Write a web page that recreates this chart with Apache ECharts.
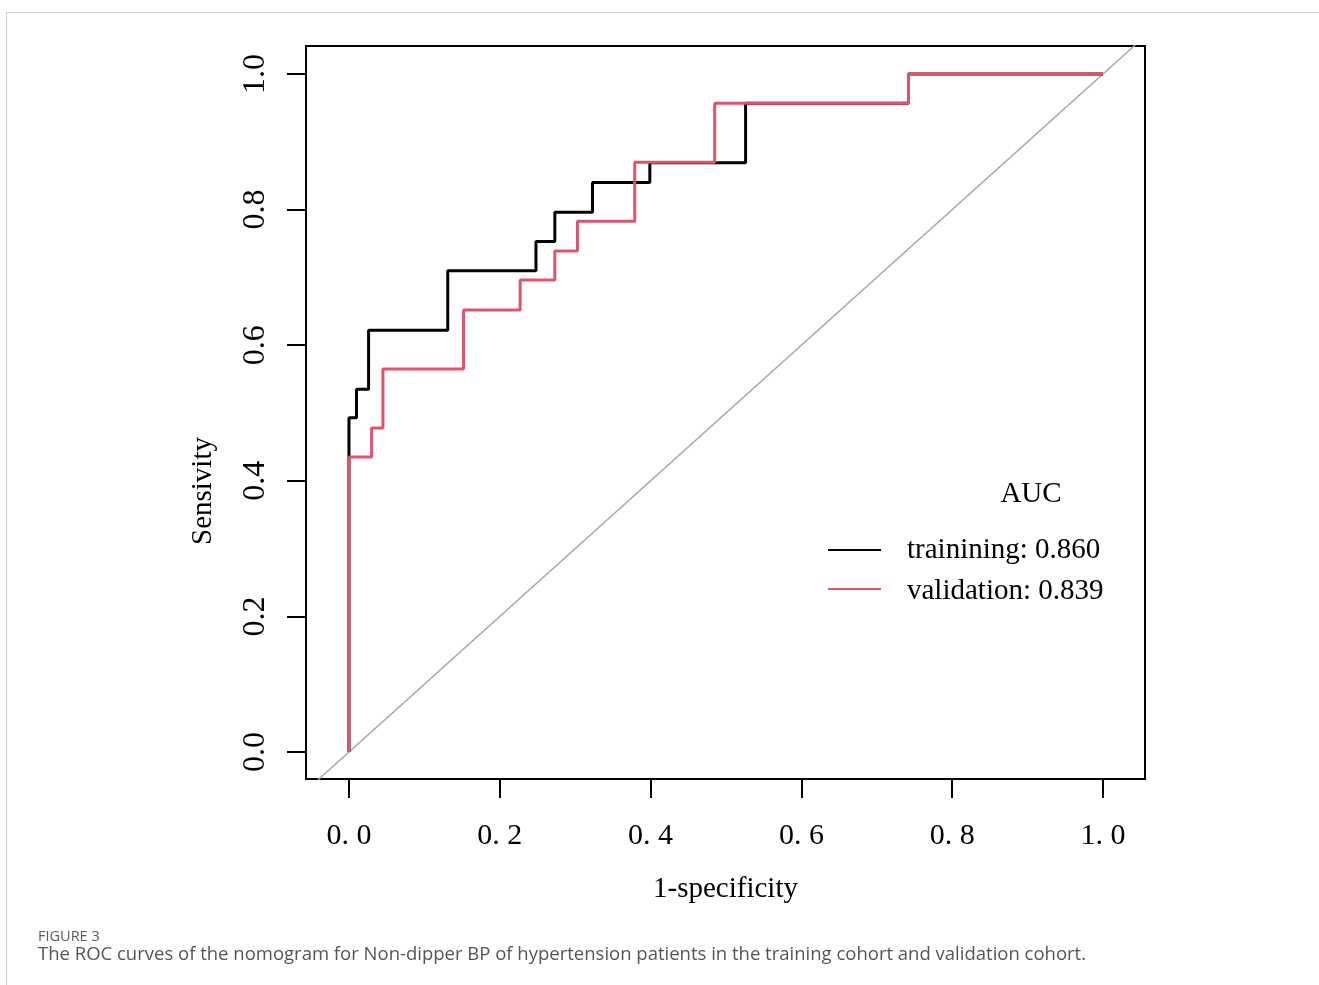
<!DOCTYPE html>
<html>
<head>
<meta charset="utf-8">
<title>ROC curves</title>
<script src="https://cdn.jsdelivr.net/npm/echarts@6.0.0/dist/echarts.min.js"></script>
<style>
  html, body {
    margin: 0;
    padding: 0;
    background: #fff;
  }
  .frame {
    position: absolute;
    left: 6px;
    top: 12px;
    right: 0;
    bottom: 0;
    border-left: 1px solid #cfcfcf;
    border-top: 1px solid #cfcfcf;
  }
  #roc {
    position: absolute;
    left: 0;
    top: 0;
    width: 1319px;
    height: 985px;
  }
</style>
</head>
<body>
<div class="frame"></div>
<div id="roc"></div>
<script>
// tick positions shared by both axes
const ticks = [0, 0.2, 0.4, 0.6, 0.8, 1.0]

// training cohort ROC (1-specificity, sensitivity), step corners
const trainFpr = [0, 0, 0.010, 0.010, 0.026, 0.026, 0.131, 0.131, 0.248, 0.248, 0.273, 0.273, 0.323, 0.323, 0.399, 0.399, 0.526, 0.526, 0.742, 0.742, 1.0]
const trainTpr = [0, 0.493, 0.493, 0.535, 0.535, 0.622, 0.622, 0.710, 0.710, 0.753, 0.753, 0.796, 0.796, 0.840, 0.840, 0.869, 0.869, 0.957, 0.957, 1.0, 1.0]

// validation cohort ROC
const validFpr = [0, 0, 0.030, 0.030, 0.045, 0.045, 0.152, 0.152, 0.227, 0.227, 0.273, 0.273, 0.303, 0.303, 0.379, 0.379, 0.485, 0.485, 0.742, 0.742, 1.0]
const validTpr = [0, 0.435, 0.435, 0.478, 0.478, 0.565, 0.565, 0.652, 0.652, 0.696, 0.696, 0.739, 0.739, 0.783, 0.783, 0.870, 0.870, 0.957, 0.957, 1.0, 1.0]

// reference diagonal (clipped by the plot box)
const diagX = [-0.2, 1.2]
const diagY = [-0.2, 1.2]

const aucNames = ['trainining', 'validation']
const aucValues = [0.860, 0.839]

const zip = (xs, ys) => xs.map((x, i) => [x, ys[i]])

const chart = echarts.init(document.getElementById('roc'))
const serif = 'Liberation Serif'
const colors = ['#000000', '#df536b', '#a9a9a9']

const option = {
  animation: false,
  grid: {
    left: 306,
    top: 46,
    width: 839,
    height: 733,
    show: true,
    borderColor: '#000',
    borderWidth: 2,
    backgroundColor: 'transparent'
  },
  xAxis: {
    type: 'value',
    min: -0.057,
    max: 1.0557,
    name: '1-specificity',
    nameLocation: 'middle',
    nameGap: 96,
    nameTextStyle: {
      fontFamily: serif,
      fontSize: 29,
      color: '#000'
    },
    axisLine: { show: false, onZero: false },
    splitLine: { show: false },
    axisTick: {
      show: true,
      inside: false,
      length: 19,
      customValues: ticks,
      lineStyle: { color: '#000', width: 2 }
    },
    axisLabel: {
      customValues: ticks,
      margin: 42,
      fontFamily: serif,
      fontSize: 30,
      color: '#000',
      formatter: v => v.toFixed(1).replace('.', '. ')
    }
  },
  yAxis: {
    type: 'value',
    min: -0.0398,
    max: 1.0413,
    axisLine: { show: false, onZero: false },
    splitLine: { show: false },
    axisTick: {
      show: true,
      inside: false,
      length: 19,
      customValues: ticks,
      lineStyle: { color: '#000', width: 2 }
    },
    axisLabel: {
      customValues: ticks,
      rotate: 90,
      margin: 34,
      fontFamily: serif,
      fontSize: 32,
      color: '#000',
      formatter: v => v.toFixed(1)
    }
  },
  series: [
    {
      name: 'diagonal',
      type: 'line',
      data: zip(diagX, diagY),
      symbol: 'none',
      clip: true,
      silent: true,
      lineStyle: { color: colors[2], width: 1.5 }
    },
    {
      name: aucNames[0],
      type: 'line',
      data: zip(trainFpr, trainTpr),
      symbol: 'none',
      lineStyle: { color: colors[0], width: 3 }
    },
    {
      name: aucNames[1],
      type: 'line',
      data: zip(validFpr, validTpr),
      symbol: 'none',
      lineStyle: { color: colors[1], width: 3 }
    }
  ],
  graphic: [
    {
      type: 'text',
      x: 203,
      y: 491,
      rotation: Math.PI / 2,
      style: {
        text: 'Sensivity',
        fontFamily: serif,
        fontSize: 29,
        fill: '#000',
        align: 'center',
        verticalAlign: 'middle'
      }
    },
    // AUC legend
    {
      type: 'text',
      x: 1031,
      y: 494,
      style: {
        text: 'AUC',
        fontFamily: serif,
        fontSize: 29,
        fill: '#000',
        align: 'center',
        verticalAlign: 'middle'
      }
    },
    {
      type: 'line',
      shape: { x1: 828, y1: 550, x2: 881, y2: 550 },
      style: { stroke: colors[0], lineWidth: 2 }
    },
    {
      type: 'line',
      shape: { x1: 828, y1: 589, x2: 881, y2: 589 },
      style: { stroke: colors[1], lineWidth: 2 }
    },
    {
      type: 'text',
      x: 907,
      y: 550,
      style: {
        text: aucNames[0] + ': ' + aucValues[0].toFixed(3),
        fontFamily: serif,
        fontSize: 29,
        fill: '#000',
        align: 'left',
        verticalAlign: 'middle'
      }
    },
    {
      type: 'text',
      x: 907,
      y: 591,
      style: {
        text: aucNames[1] + ': ' + aucValues[1].toFixed(3),
        fontFamily: serif,
        fontSize: 29,
        fill: '#000',
        align: 'left',
        verticalAlign: 'middle'
      }
    },
    // figure caption
    {
      type: 'text',
      x: 38,
      y: 937,
      style: {
        text: 'FIGURE 3',
        fontFamily: 'Open Sans',
        fontSize: 14.5,
        fill: '#5a5a5a',
        align: 'left',
        verticalAlign: 'middle'
      }
    },
    {
      type: 'text',
      x: 38,
      y: 955,
      style: {
        text: 'The ROC curves of the nomogram for Non-dipper BP of hypertension patients in the training cohort and validation cohort.',
        fontFamily: 'Open Sans',
        fontSize: 18.5,
        fill: '#555',
        align: 'left',
        verticalAlign: 'middle'
      }
    }
  ]
}

chart.setOption(option, true)
const fn = () => {
  chart.resize()
}
window.addEventListener('resize', fn)
</script>
</body>
</html>
